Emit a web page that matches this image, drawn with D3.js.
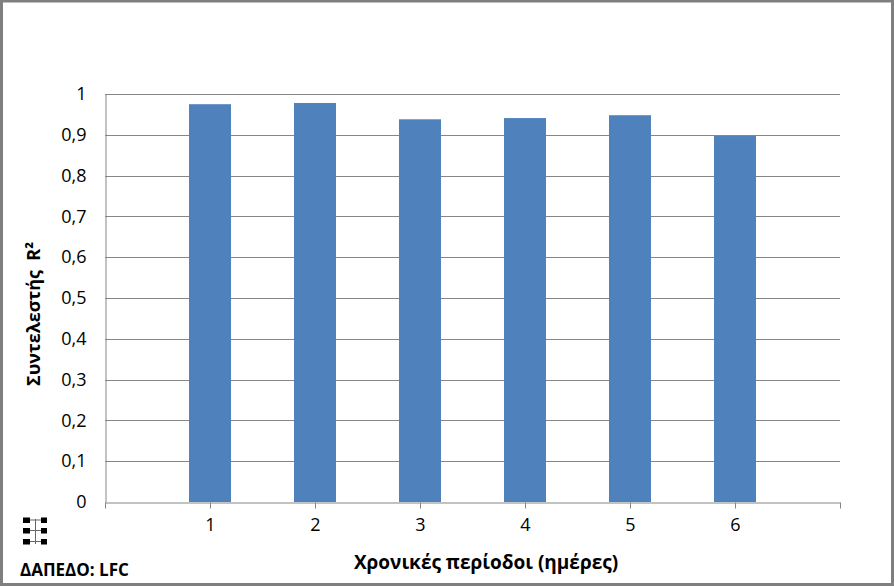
<!DOCTYPE html>
<html>
<head>
<meta charset="utf-8">
<script src="https://cdn.jsdelivr.net/npm/d3@7"></script>
<style>
  body { margin: 0; background: #fff; }
  svg text { font-family: "Open Sans", "Noto Sans", sans-serif; fill: #000; }
  .axis path, .axis line { stroke: #868686; }
  .grid line { stroke: #868686; }
</style>
</head>
<body>
<div id="chart"></div>
<script>
// periods (days) and R² values
const periods = [1, 2, 3, 4, 5, 6];
const r2Values = [0.975, 0.978, 0.938, 0.941, 0.948, 0.897];
const yTicks = [0, 0.1, 0.2, 0.3, 0.4, 0.5, 0.6, 0.7, 0.8, 0.9, 1];
const xTitle = 'Χρονικές περίοδοι (ημέρες)';
const yTitle = 'Συντελεστής\u00a0\u00a0R²';
const footLabel = 'ΔΑΠΕΔΟ: LFC';

const data = periods.map((p, i) => ({period: p, value: r2Values[i]}));

const config = {
  width: 894,
  height: 586,
  margin: {top: 94, right: 54, bottom: 84, left: 105},
  barWidth: 0.4   // in category units
};

const width = config.width - config.margin.left - config.margin.right;
const height = config.height - config.margin.top - config.margin.bottom;

const svg = d3.select('#chart').append('svg')
    .attr('width', config.width)
    .attr('height', config.height);

// outer frame
svg.append('rect')
    .attr('x', 1.5).attr('y', 1)
    .attr('width', config.width - 3).attr('height', config.height - 2.5)
    .attr('fill', '#fff')
    .attr('stroke', '#7f7f7f')
    .attr('stroke-width', 3);

const chart = svg.append('g')
    .attr('transform', `translate(${config.margin.left},${config.margin.top})`);

// category axis runs 0..7 so bars sit at 1..6 with a free slot each side
const xScale = d3.scaleLinear()
    .domain([0, periods.length + 1])
    .range([0, width]);

const yScale = d3.scaleLinear()
    .domain([0, 1])
    .range([height, 0]);

// horizontal gridlines
chart.append('g')
    .attr('class', 'grid')
  .selectAll('line')
    .data(yTicks.filter(d => d > 0))
  .join('line')
    .attr('x1', 0)
    .attr('x2', width)
    .attr('y1', d => Math.round(yScale(d)) + 0.5)
    .attr('y2', d => Math.round(yScale(d)) + 0.5);

// bars
chart.selectAll('.bar')
    .data(data)
  .join('rect')
    .attr('class', 'bar')
    .attr('x', d => xScale(d.period - config.barWidth / 2))
    .attr('width', xScale(config.barWidth) - xScale(0))
    .attr('y', d => yScale(d.value))
    .attr('height', d => height - yScale(d.value))
    .attr('fill', '#4f81bd');

// y axis
const yAxis = d3.axisLeft(yScale)
    .tickValues(yTicks)
    .tickSize(0)
    .tickPadding(19)
    .tickFormat(d => d3.format('~g')(d).replace('.', ','));

chart.append('g')
    .attr('class', 'axis y-axis')
    .attr('transform', 'translate(0.5,0)')
    .call(yAxis)
    .call(g => g.selectAll('text').style('font-size', '18px'));

// x axis: ticks at every category boundary, labels only for periods
const xAxis = d3.axisBottom(xScale)
    .tickValues(d3.range(0, periods.length + 2))
    .tickSizeInner(6)
    .tickSizeOuter(0)
    .tickPadding(10)
    .tickFormat(d => periods.includes(d) ? d : '');

chart.append('g')
    .attr('class', 'axis x-axis')
    .attr('transform', `translate(0,${Math.round(height) + 0.5})`)
    .call(xAxis)
    .call(g => g.selectAll('text').style('font-size', '18px'));

// axis titles
svg.append('text')
    .attr('x', 486)
    .attr('y', 569)
    .attr('text-anchor', 'middle')
    .style('font-size', '19px')
    .style('font-weight', 'bold')
    .text(xTitle);

svg.append('text')
    .attr('transform', 'translate(40,314) rotate(-90)')
    .attr('text-anchor', 'middle')
    .style('font-size', '18px')
    .style('font-weight', 'bold')
    .text(yTitle);

// little table icon + floor label
const icon = svg.append('g').attr('transform', 'translate(23,518)');
icon.append('line')
    .attr('x1', 12.5).attr('x2', 12.5).attr('y1', 1).attr('y2', 26)
    .attr('stroke', '#666');
[2, 12.5, 23.5].forEach(y => {
  icon.append('line')
      .attr('x1', 4).attr('x2', 20).attr('y1', y).attr('y2', y)
      .attr('stroke', '#666');
  icon.append('rect').attr('x', 0).attr('y', y - 2.5).attr('width', 7).attr('height', 5.5).attr('fill', '#000');
  icon.append('rect').attr('x', 18).attr('y', y - 2.5).attr('width', 6).attr('height', 5.5).attr('fill', '#000');
});

svg.append('text')
    .attr('x', 20)
    .attr('y', 576)
    .style('font-size', '17px')
    .style('font-weight', 'bold')
    .text(footLabel);
</script>
</body>
</html>
